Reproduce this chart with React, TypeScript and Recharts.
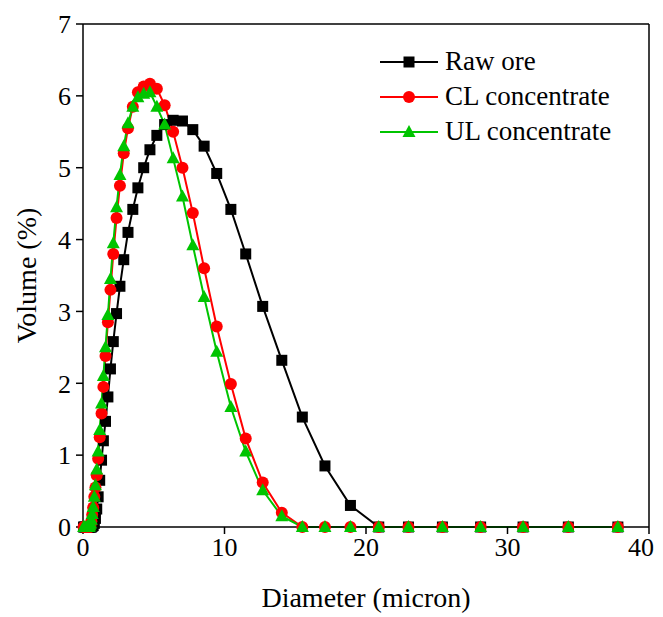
import React from "react";
import { LineChart, Line, XAxis, YAxis, ReferenceLine, Legend } from "recharts";

// Particle diameter (micron)
const diameters = [
  0.04, 0.12, 0.22, 0.3, 0.33, 0.36, 0.4, 0.44, 0.49, 0.54, 0.59, 0.65, 0.72, 0.8, 0.88, 0.97,
  1.07, 1.18, 1.31, 1.44, 1.59, 1.76, 1.94, 2.14, 2.37, 2.61, 2.88, 3.18, 3.52, 3.88, 4.29, 4.73,
  5.22, 5.77, 6.37, 7.03, 7.76, 8.56, 9.45, 10.45, 11.5, 12.7, 14.05, 15.5, 17.1, 18.9, 20.9, 23.0,
  25.4, 28.1, 31.1, 34.3, 37.8,
];

// Volume (%) per series
const rawOre = [
  0, 0, 0, 0, 0, 0, 0, 0, 0, 0, 0, 0.01, 0.02, 0.05, 0.12, 0.25,
  0.42, 0.65, 0.93, 1.2, 1.47, 1.81, 2.2, 2.58, 2.97, 3.35, 3.72, 4.1, 4.42, 4.72, 5.0, 5.25,
  5.45, 5.6, 5.66, 5.65, 5.53, 5.3, 4.92, 4.42, 3.8, 3.07, 2.32, 1.53, 0.85, 0.3, 0, 0,
  0, 0, 0, 0, 0,
];
const clConcentrate = [
  0, 0, 0, 0, 0, 0, 0, 0, 0, 0.03, 0.08, 0.17, 0.27, 0.42, 0.55, 0.72,
  0.95, 1.25, 1.58, 1.95, 2.38, 2.85, 3.3, 3.8, 4.3, 4.75, 5.2, 5.55, 5.85, 6.05, 6.13, 6.17,
  6.1, 5.87, 5.5, 5.0, 4.37, 3.6, 2.79, 1.99, 1.23, 0.62, 0.2, 0, 0, 0, 0, 0,
  0, 0, 0, 0, 0,
];
const ulConcentrate = [
  0, 0, 0, 0, 0, 0, 0, 0, 0.02, 0.05, 0.1, 0.18, 0.28, 0.42, 0.58, 0.8,
  1.05, 1.35, 1.72, 2.1, 2.5, 2.95, 3.45, 3.95, 4.45, 4.9, 5.3, 5.62, 5.85, 5.98, 6.03, 6.05,
  5.85, 5.6, 5.13, 4.6, 3.92, 3.2, 2.44, 1.67, 1.05, 0.51, 0.15, 0, 0, 0, 0, 0,
  0, 0, 0, 0, 0,
];

const xTicks = [0, 10, 20, 30, 40];
const yTicks = [0, 1, 2, 3, 4, 5, 6, 7];

const seriesNames = ["Raw ore", "CL concentrate", "UL concentrate"];
const seriesColors = ["#000000", "#ff0000", "#00c400"];
const seriesShapes = ["square", "circle", "triangle"];

const data = diameters.map((d, i) => ({
  d,
  raw: rawOre[i],
  cl: clConcentrate[i],
  ul: ulConcentrate[i],
}));

const FONT = '"Liberation Serif", "Times New Roman", serif';

function markerElement(shape: string, cx: number, cy: number, color: string, key?: string) {
  if (shape === "square") {
    return <rect key={key} x={cx - 5.5} y={cy - 5.5} width={11} height={11} fill={color} />;
  }
  if (shape === "circle") {
    return <circle key={key} cx={cx} cy={cy} r={6} fill={color} />;
  }
  return (
    <polygon
      key={key}
      points={`${cx},${cy - 7} ${cx + 6.5},${cy + 5} ${cx - 6.5},${cy + 5}`}
      fill={color}
    />
  );
}

const makeDot = (shape: string, color: string, prefix: string) => (props: any) => {
  const { cx, cy, index } = props;
  const key = `${prefix}-${index}`;
  if (cx == null || cy == null) return <g key={key} />;
  return markerElement(shape, cx, cy, color, key);
};

const LegendContent = () => (
  <div style={{ fontFamily: FONT, fontSize: 27, color: "#000" }}>
    {seriesNames.map((name, i) => (
      <div key={name} style={{ display: "flex", alignItems: "center", height: 35 }}>
        <svg width={58} height={20} style={{ display: "block" }}>
          <line x1={0} y1={10} x2={58} y2={10} stroke={seriesColors[i]} strokeWidth={2} />
          {markerElement(seriesShapes[i], 29, 10, seriesColors[i])}
        </svg>
        <span style={{ marginLeft: 7, lineHeight: "35px", whiteSpace: "nowrap" }}>{name}</span>
      </div>
    ))}
  </div>
);

// X tick label; the last one is nudged left so it stays inside the visible page
const XTick = (props: any) => {
  const { x, y, payload, index } = props;
  const last = index === xTicks.length - 1;
  return (
    <text
      x={x}
      y={y}
      dy="0.71em"
      dx={last ? -8 : 0}
      textAnchor="middle"
      fontSize={26}
      fill="#000"
      fontFamily={FONT}
    >
      {payload.value}
    </text>
  );
};

const tickStyle = { fontSize: 26, fill: "#000", fontFamily: FONT };

export default function App() {
  return (
    <div style={{ width: 655, height: 609, overflow: "visible" }}>
      <style>{`html, body { overflow: hidden; } #root { width: 655px; height: 609px; }`}</style>
      <LineChart
        width={655}
        height={609}
        data={data}
        margin={{ top: 16, right: 14, left: 0, bottom: 0 }}
      >
        <XAxis
          type="number"
          dataKey="d"
          domain={[0, 40]}
          ticks={xTicks}
          interval={0}
          height={90}
          tick={<XTick />}
          tickSize={7}
          tickMargin={4}
          axisLine={{ stroke: "#000", strokeWidth: 1.5 }}
          tickLine={{ stroke: "#000", strokeWidth: 1.5 }}
          label={{
            value: "Diameter (micron)",
            position: "insideBottom",
            offset: 10,
            style: { fontSize: 28, fill: "#000", fontFamily: FONT, textAnchor: "middle" },
          }}
        />
        <YAxis
          type="number"
          domain={[0, 7]}
          ticks={yTicks}
          interval={0}
          width={75}
          tick={tickStyle}
          tickSize={7}
          tickMargin={5}
          axisLine={{ stroke: "#000", strokeWidth: 1.5 }}
          tickLine={{ stroke: "#000", strokeWidth: 1.5 }}
          label={{
            value: "Volume (%)",
            angle: -90,
            position: "insideLeft",
            offset: 18,
            style: { fontSize: 28, fill: "#000", fontFamily: FONT, textAnchor: "middle" },
          }}
        />
        <ReferenceLine y={7} stroke="#000" strokeWidth={1.5} />
        <ReferenceLine x={40} stroke="#000" strokeWidth={1.5} />
        <Line
          type="linear"
          dataKey="raw"
          name={seriesNames[0]}
          stroke={seriesColors[0]}
          strokeWidth={2}
          dot={makeDot(seriesShapes[0], seriesColors[0], "raw")}
          activeDot={false}
          isAnimationActive={false}
        />
        <Line
          type="linear"
          dataKey="cl"
          name={seriesNames[1]}
          stroke={seriesColors[1]}
          strokeWidth={2}
          dot={makeDot(seriesShapes[1], seriesColors[1], "cl")}
          activeDot={false}
          isAnimationActive={false}
        />
        <Line
          type="linear"
          dataKey="ul"
          name={seriesNames[2]}
          stroke={seriesColors[2]}
          strokeWidth={2}
          dot={makeDot(seriesShapes[2], seriesColors[2], "ul")}
          activeDot={false}
          isAnimationActive={false}
        />
        <Legend
          content={LegendContent}
          layout="vertical"
          align="center"
          verticalAlign="middle"
          wrapperStyle={{ top: 36, left: 372, width: 280, height: 110 }}
        />
      </LineChart>
    </div>
  );
}
